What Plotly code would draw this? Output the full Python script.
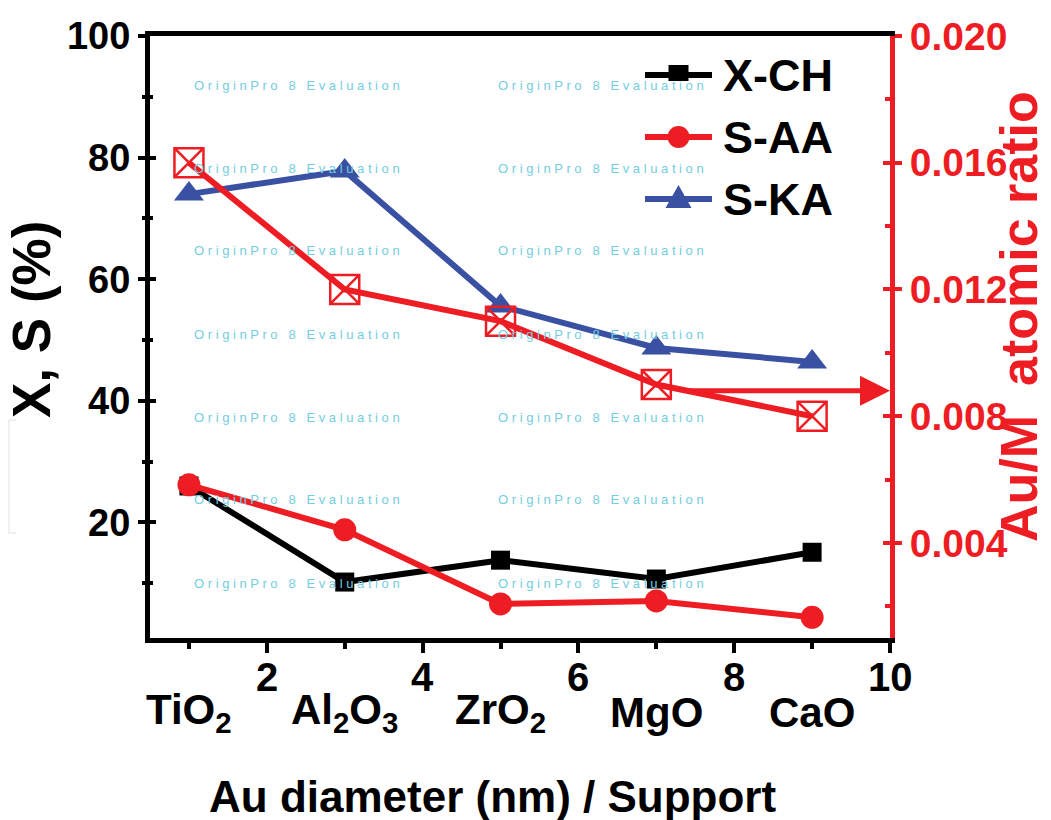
import plotly.graph_objects as go

# ---------------- data ----------------
au_diameter = [1, 3, 5, 7, 9]
supports = ["TiO<sub>2</sub>", "Al<sub>2</sub>O<sub>3</sub>", "ZrO<sub>2</sub>", "MgO", "CaO"]
x_ch = [26.0, 10.2, 13.8, 10.7, 15.1]
s_aa = [26.2, 18.8, 6.6, 7.1, 4.4]
s_ka = [74.0, 77.8, 55.6, 48.7, 46.4]
au_m_ratio = [0.016, 0.012, 0.011, 0.009, 0.008]

x_ticks = [2, 4, 6, 8, 10]
x_minor = [1, 3, 5, 7, 9]
y_ticks = [20, 40, 60, 80, 100]
y_minor = [10, 30, 50, 70, 90]
y2_ticks = [0.004, 0.008, 0.012, 0.016, 0.020]
y2_minor = [0.002, 0.006, 0.010, 0.014, 0.018]
y2_ticktext = ["0.004", "0.008", "0.012", "0.016", "0.020"]

FONT = "Liberation Sans, Arial, sans-serif"
BLACK = "#000000"
RED = "#ee1d23"
BLUE = "#3a50a2"
WM = "#74cde0"

# plot area in pixels
L, R, T, B = 150, 890, 36, 638
W, H = R - L, B - T


def px(xp):
    return (xp - L) / W


def py(yp):
    return (B - yp) / H


fig = go.Figure()

series = [
    ("X-CH", x_ch, BLACK, "square", 19),
    ("S-AA", s_aa, RED, "circle", 23),
    ("S-KA", s_ka, BLUE, "triangle-up", 26),
]
for name, vals, col, sym, sz in series:
    fig.add_trace(go.Scatter(
        x=au_diameter, y=vals, name=name, mode="lines+markers", showlegend=False,
        line=dict(color=col, width=6),
        marker=dict(symbol=sym, size=sz, color=col)))

fig.add_trace(go.Scatter(
    x=au_diameter, y=au_m_ratio, name="Au/M", mode="lines+markers",
    yaxis="y2", showlegend=False,
    line=dict(color=RED, width=6),
    marker=dict(symbol="square-x-open", size=29, color=RED,
                line=dict(color=RED, width=2.5))))

# empty traces so the overlay tick axes (crossing ticks) are drawn
fig.add_trace(go.Scatter(x=[], y=[], yaxis="y3", showlegend=False, hoverinfo="skip"))
fig.add_trace(go.Scatter(x=[], y=[], yaxis="y4", showlegend=False, hoverinfo="skip"))

annotations = []
shapes = []

# watermark
wm_text = "O r i g i n P r o   8   E v a l u a t i o n"
for yy in [85, 168, 251, 334, 417, 500, 583]:
    for xx in [192, 496]:
        annotations.append(dict(
            text=wm_text, xref="paper", yref="paper",
            x=px(xx), y=py(yy),
            xanchor="left", yanchor="middle", showarrow=False,
            font=dict(family=FONT, size=13, color=WM, weight="normal")))

# x tick numbers
for xv in x_ticks:
    annotations.append(dict(
        text=str(xv), x=xv, xref="x", yref="paper", y=py(677),
        xanchor="center", yanchor="middle", showarrow=False,
        font=dict(family=FONT, size=40, color=BLACK, weight="bold")))

# support category labels
for xv, lab in zip(au_diameter, supports):
    annotations.append(dict(
        text=lab, x=xv, xref="x", yref="paper", y=py(712),
        xanchor="center", yanchor="middle", showarrow=False,
        font=dict(family=FONT, size=42, color=BLACK, weight="bold")))

# axis titles
annotations.append(dict(
    text="Au diameter (nm) / Support", xref="paper", yref="paper",
    x=px(492), y=py(797), xanchor="center", yanchor="middle",
    showarrow=False, font=dict(family=FONT, size=44, color=BLACK, weight="bold")))
annotations.append(dict(
    text="X, S (%)", xref="paper", yref="paper", textangle=-90,
    x=px(31), y=py(320), xanchor="center", yanchor="middle",
    showarrow=False, font=dict(family=FONT, size=53, color=BLACK, weight="bold")))
annotations.append(dict(
    text="Au/M  atomic ratio", xref="paper", yref="paper", textangle=-90,
    x=px(1050), y=py(317), xanchor="right", yanchor="middle",
    showarrow=False, font=dict(family=FONT, size=52, color=RED, weight="bold")))

# arrow pointing to the right axis
annotations.append(dict(
    x=10, y=au_m_ratio[3] - 0.0002, xref="x", yref="y2",
    ax=7.4, ay=au_m_ratio[3] - 0.0002, axref="x", ayref="y2",
    showarrow=True, arrowhead=2, arrowsize=1.2, arrowwidth=5, arrowcolor=RED,
    text=""))

# faint scan artefact bracket at the left edge
shapes.append(dict(type="path", xref="paper", yref="paper",
                   path=f"M {px(16)} {py(420)} L {px(9)} {py(420)} "
                        f"L {px(9)} {py(533)} L {px(16)} {py(533)}",
                   line=dict(color="#f0f0f0", width=2)))

# custom legend (long line samples like the original)
leg_rows = [75, 137, 199]
for (name, vals, col, sym, sz), yy in zip(series, leg_rows):
    shapes.append(dict(type="line", xref="paper", yref="paper",
                       x0=px(645), x1=px(712), y0=py(yy), y1=py(yy),
                       line=dict(color=col, width=6)))
    cx = 678.5
    if sym == "square":
        shapes.append(dict(type="rect", xref="paper", yref="paper",
                           x0=px(cx - 10), x1=px(cx + 10), y0=py(yy - 10), y1=py(yy + 6),
                           fillcolor=col, line=dict(width=0)))
    elif sym == "circle":
        shapes.append(dict(type="circle", xref="paper", yref="paper",
                           x0=px(cx - 11), x1=px(cx + 11), y0=py(yy - 11), y1=py(yy + 11),
                           fillcolor=col, line=dict(width=0)))
    else:
        shapes.append(dict(type="path", xref="paper", yref="paper",
                           path=f"M {px(cx)} {py(yy - 14)} L {px(cx + 13)} {py(yy + 9)} "
                                f"L {px(cx - 13)} {py(yy + 9)} Z",
                           fillcolor=col, line=dict(width=0)))
    annotations.append(dict(
        text=name, xref="paper", yref="paper", x=px(721), y=py(yy),
        xanchor="left", yanchor="middle", showarrow=False,
        font=dict(family=FONT, size=45, color=BLACK, weight="bold")))

fig.update_layout(
    width=1051, height=820,
    paper_bgcolor="white", plot_bgcolor="white",
    margin=dict(l=L, r=1051 - R, t=T, b=820 - B, autoexpand=False),
    font=dict(family=FONT, size=38, color=BLACK, weight="bold"),
    showlegend=False,
    xaxis=dict(
        range=[0.5, 10], tickvals=x_ticks, showticklabels=False,
        showgrid=False, zeroline=False,
        showline=True, linewidth=5, linecolor=BLACK, mirror=True,
        ticks="outside", ticklen=10, tickwidth=4, tickcolor=BLACK,
        minor=dict(tickvals=x_minor, ticks="outside", ticklen=6,
                   tickwidth=4, tickcolor=BLACK)),
    yaxis=dict(
        range=[1, 100], tickvals=y_ticks, ticktext=[str(v) for v in y_ticks],
        showgrid=False, zeroline=False,
        showline=True, linewidth=5, linecolor=BLACK,
        ticks="outside", ticklen=7, tickwidth=4, tickcolor=BLACK,
        tickfont=dict(family=FONT, size=38, color=BLACK, weight="bold"),
        minor=dict(tickvals=y_minor, ticks="outside", ticklen=3,
                   tickwidth=4, tickcolor=BLACK)),
    yaxis3=dict(
        range=[1, 100], overlaying="y", side="left", anchor="x",
        tickvals=y_ticks, showticklabels=False,
        showgrid=False, zeroline=False, showline=False,
        ticks="inside", ticklen=6, tickwidth=4, tickcolor=BLACK,
        minor=dict(tickvals=y_minor, ticks="inside", ticklen=3,
                   tickwidth=4, tickcolor=BLACK)),
    yaxis2=dict(
        range=[0.001, 0.020], overlaying="y", side="right", anchor="x",
        tickvals=y2_ticks, ticktext=y2_ticktext,
        showgrid=False, zeroline=False,
        showline=True, linewidth=5, linecolor=RED,
        ticks="outside", ticklen=7, tickwidth=4, tickcolor=RED,
        tickfont=dict(family=FONT, size=39, color=RED, weight="bold"),
        minor=dict(tickvals=y2_minor, ticks="inside", ticklen=5,
                   tickwidth=4, tickcolor=RED)),
    yaxis4=dict(
        range=[0.001, 0.020], overlaying="y", side="right", anchor="x",
        tickvals=y2_ticks, showticklabels=False,
        showgrid=False, zeroline=False, showline=False,
        ticks="inside", ticklen=7, tickwidth=4, tickcolor=RED),
    annotations=annotations,
    shapes=shapes,
)

fig.write_html("out.html")
